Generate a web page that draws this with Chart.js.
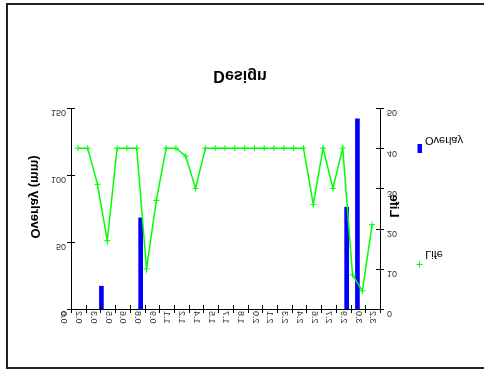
<!DOCTYPE html>
<html>
<head>
<meta charset="utf-8">
<script src="https://cdn.jsdelivr.net/npm/chart.js@4"></script>
<style>
  body { margin: 0; background: #fff; }
  #wrap { position: relative; width: 484px; height: 370px; overflow: hidden; }
</style>
</head>
<body>
<div id="wrap"><canvas id="designChart" width="484" height="370"></canvas></div>
<script>
// tick labels for the x axis (one per 0.15 step)
const xTickLabels = ['0.0','0.2','0.3','0.5','0.6','0.8','0.9','1.1','1.2','1.4','1.5',
                     '1.7','1.8','2.0','2.1','2.3','2.4','2.6','2.7','2.9','3.0','3.2'];

// Overlay (mm) bars
const overlayX = [0.31, 0.71, 2.81, 2.92];
const overlayY = [17, 68, 76, 142];

// Life line
const lifeX = [0.07, 0.17, 0.27, 0.37, 0.47, 0.57, 0.67, 0.77, 0.87, 0.97,
               1.07, 1.17, 1.27, 1.37, 1.47, 1.57, 1.67, 1.77, 1.87, 1.97,
               2.07, 2.17, 2.27, 2.37, 2.47, 2.57, 2.67, 2.77, 2.87, 2.97, 3.07];
const lifeY = [40, 40, 31, 17, 40, 40, 40, 10, 27, 40,
               40, 38, 30, 40, 40, 40, 40, 40, 40, 40,
               40, 40, 40, 40, 26, 40, 30, 40, 8.5, 4.5, 21];

// every glyph in the reference is mirrored top-to-bottom around its baseline
const origFill = CanvasRenderingContext2D.prototype.fillText;
CanvasRenderingContext2D.prototype.fillText = function (text, x, y, maxW) {
    const base = this.textBaseline;
    const mB = this.measureText(text);
    this.textBaseline = 'alphabetic';
    const mA = this.measureText(text);
    const ya = y + (mA.actualBoundingBoxAscent - mB.actualBoundingBoxAscent);
    this.save();
    this.translate(x, ya);
    this.scale(1, -1);
    if (maxW === undefined) origFill.call(this, text, 0, 0);
    else origFill.call(this, text, 0, 0, maxW);
    this.restore();
    this.textBaseline = base;
};

function flipText(ctx, text, x, y, font, rot) {
    ctx.save();
    ctx.font = font;
    ctx.fillStyle = '#000';
    ctx.translate(x, y);
    ctx.rotate(rot || 0);
    ctx.scale(1, -1);
    ctx.textAlign = 'center';
    ctx.textBaseline = 'middle';
    origFill.call(ctx, text, 0, 0);
    ctx.restore();
}

const decor = {
    id: 'decor',
    afterDraw(chart) {
        const ctx = chart.ctx;
        const sx = chart.scales.x, sy = chart.scales.y, sy1 = chart.scales.y1;
        ctx.save();
        ctx.strokeStyle = '#000';
        ctx.lineWidth = 1;
        ctx.beginPath();
        sx.ticks.forEach((t, i) => {
            const px = Math.round(sx.getPixelForTick(i)) + 0.5;
            ctx.moveTo(px, sx.top - 4); ctx.lineTo(px, sx.top + 4);
        });
        sy.ticks.forEach((t, i) => {
            const py = Math.round(sy.getPixelForTick(i)) + 0.5;
            ctx.moveTo(sy.right - 4, py); ctx.lineTo(sy.right + 4, py);
        });
        sy1.ticks.forEach((t, i) => {
            const py = Math.round(sy1.getPixelForTick(i)) + 0.5;
            ctx.moveTo(sy1.left - 4, py); ctx.lineTo(sy1.left + 4, py);
        });
        ctx.stroke();

        // frame
        ctx.strokeStyle = '#222';
        ctx.lineWidth = 2;
        ctx.strokeRect(7, 4, 500, 364);

        // titles
        flipText(ctx, 'Design', 240, 75, 'bold 16px "Liberation Sans", Arial', 0);
        flipText(ctx, 'Overlay (mm)', 35, 197, 'bold 13px "Liberation Sans", Arial', -Math.PI / 2);
        flipText(ctx, 'Life', 394, 206, 'bold 13px "Liberation Sans", Arial', -Math.PI / 2);

        // legend
        ctx.fillStyle = '#0000ff';
        ctx.fillRect(417.5, 144, 4.5, 9);
        ctx.strokeStyle = '#00ff00';
        ctx.lineWidth = 1;
        ctx.beginPath();
        ctx.moveTo(416.5, 264.5); ctx.lineTo(422.5, 264.5);
        ctx.moveTo(419.5, 261.5); ctx.lineTo(419.5, 267.5);
        ctx.stroke();
        flipText(ctx, 'Overlay', 444, 140, '11px "Liberation Sans", Arial', 0);
        flipText(ctx, 'Life', 434, 254, '11px "Liberation Sans", Arial', 0);
        ctx.restore();
    }
};

const tickFont = { family: '"Liberation Sans", Arial', size: 9 };

new Chart(document.getElementById('designChart'), {
    data: {
        datasets: [
            {
                type: 'line',
                label: 'Life',
                yAxisID: 'y1',
                data: lifeX.map((x, i) => ({ x: x, y: lifeY[i] })),
                borderColor: '#00ff00',
                backgroundColor: '#00ff00',
                borderWidth: 1.5,
                pointStyle: 'cross',
                pointRadius: 3,
                pointBorderWidth: 1,
                tension: 0,
                order: 0
            },
            {
                type: 'bar',
                label: 'Overlay',
                yAxisID: 'y',
                data: overlayX.map((x, i) => ({ x: x, y: overlayY[i] })),
                backgroundColor: '#0000ff',
                barThickness: 4,
                order: 1
            }
        ]
    },
    options: {
        responsive: false,
        animation: false,
        layout: { padding: { left: 0, right: 64, top: 108, bottom: 0 } },
        plugins: { legend: { display: false }, title: { display: false }, tooltip: { enabled: false } },
        scales: {
            x: {
                type: 'linear',
                offset: false,
                min: 0, max: 3.15,
                grid: { display: false, drawTicks: false },
                border: { display: true, color: '#000', width: 1 },
                ticks: {
                    stepSize: 0.15,
                    autoSkip: false,
                    maxRotation: 90, minRotation: 90,
                    padding: 2,
                    labelOffset: -12,
                    color: '#333',
                    font: tickFont,
                    callback: (v, i) => xTickLabels[i]
                },
                afterFit: s => { s.height = 61; }
            },
            y: {
                position: 'left',
                min: 0, max: 150,
                grid: { display: false, drawTicks: false },
                border: { display: true, color: '#000', width: 1 },
                ticks: { stepSize: 50, padding: 5, color: '#333', font: tickFont },
                afterFit: s => { s.width = 71; }
            },
            y1: {
                position: 'right',
                min: 0, max: 50,
                grid: { display: false, drawTicks: false },
                border: { display: true, color: '#000', width: 1 },
                ticks: { stepSize: 10, padding: 7, color: '#333', font: tickFont },
                afterFit: s => { s.width = 40; }
            }
        }
    },
    plugins: [decor]
});
</script>
</body>
</html>
